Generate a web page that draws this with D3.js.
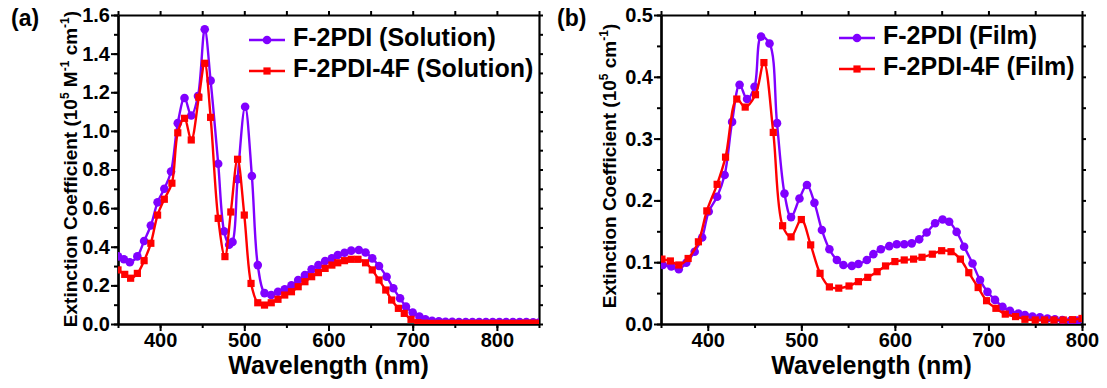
<!DOCTYPE html>
<html>
<head>
<meta charset="utf-8">
<script src="https://cdn.jsdelivr.net/npm/d3@7"></script>
<style>
    body { margin: 0; background: #fff; }
    text { font-family: "Liberation Sans", Arial, sans-serif; font-weight: bold; fill: #000; }
</style>
</head>
<body>
<svg id="chart" width="1107" height="388"></svg>
<script>
'use strict';

// ---- panel (a): solution, 10^5 M^-1 cm^-1 ----
var solWaveF2 = [350, 357, 364, 373, 381, 389, 397, 405, 413, 421, 429, 437, 445, 453, 460, 469, 476, 482, 486, 492,
    501, 509, 516, 524, 532, 540, 548, 556, 564, 572, 580, 588, 596, 604, 611, 619, 627, 636, 644, 652,
    660, 669, 677, 685, 692, 700, 708, 715, 723, 731, 739, 747, 755, 763, 771, 779, 787, 795, 803, 811,
    819, 827, 835, 843, 850];
var solAbsF2 = [0.35, 0.335, 0.32, 0.35, 0.43, 0.51, 0.63, 0.70, 0.79, 1.04, 1.17, 1.08, 1.18, 1.526, 1.26, 0.83, 0.48, 0.41, 0.425, 0.75,
    1.125, 0.766, 0.305, 0.16, 0.15, 0.167, 0.18, 0.20, 0.228, 0.254, 0.283, 0.305, 0.326, 0.34, 0.357, 0.369, 0.38, 0.383, 0.37, 0.34,
    0.30, 0.245, 0.185, 0.133, 0.09, 0.059, 0.038, 0.024, 0.017, 0.014, 0.012, 0.011, 0.010, 0.010, 0.010, 0.010, 0.010, 0.010, 0.010, 0.010,
    0.010, 0.010, 0.010, 0.009, 0.008];

var solWaveF4 = [350, 358, 365, 373, 381, 389, 397, 405, 414, 421, 429, 437, 446, 453, 460, 469, 477, 484, 492, 500,
    508, 516, 524, 532, 540, 548, 556, 564, 572, 580, 588, 596, 604, 611, 619, 627, 635, 644, 652, 660,
    668, 675, 683, 690, 698, 706, 714, 722, 730, 738, 746, 754, 762, 770, 778, 786, 794, 802, 810, 818,
    826, 834, 842, 850];
var solAbsF4 = [0.28, 0.257, 0.237, 0.262, 0.328, 0.418, 0.564, 0.646, 0.729, 0.99, 1.065, 0.953, 1.174, 1.35, 1.07, 0.547, 0.349, 0.58, 0.853, 0.564,
    0.21, 0.11, 0.098, 0.11, 0.128, 0.15, 0.167, 0.193, 0.219, 0.245, 0.266, 0.288, 0.305, 0.317, 0.328, 0.335, 0.335, 0.317, 0.28, 0.228,
    0.176, 0.124, 0.081, 0.055, 0.024, 0.007, 0.004, 0.003, 0.003, 0.003, 0.003, 0.003, 0.003, 0.003, 0.003, 0.003, 0.003, 0.003, 0.003, 0.003,
    0.003, 0.004, 0.004, 0.004];

// ---- panel (b): film, 10^5 cm^-1 ----
var filmWaveF2 = [352, 361, 369, 377, 386, 394, 401, 410, 418, 426, 434, 442, 450, 457, 466, 474, 482, 489, 498, 506,
    514, 522, 530, 538, 545, 554, 561, 570, 577, 585, 594, 602, 610, 618, 626, 634, 643, 651, 658, 666,
    674, 683, 691, 699, 707, 715, 723, 732, 739, 747, 755, 763, 771, 779, 788, 795];
var filmAbsF2 = [0.0955, 0.093, 0.0885, 0.099, 0.117, 0.14, 0.182, 0.206, 0.241, 0.327, 0.387, 0.364, 0.384, 0.465, 0.454, 0.325, 0.211, 0.173, 0.203, 0.225,
    0.196, 0.152, 0.121, 0.1035, 0.0955, 0.094, 0.097, 0.1035, 0.113, 0.121, 0.126, 0.129, 0.129, 0.1305, 0.137, 0.148, 0.163, 0.169, 0.1655, 0.149,
    0.125, 0.098, 0.071, 0.052, 0.039, 0.028, 0.0215, 0.017, 0.0146, 0.012, 0.011, 0.009, 0.0076, 0.0065, 0.0054, 0.0054];

var filmWaveF4 = [351, 360, 369, 379, 390, 399, 410, 419, 431, 440, 451, 460, 470, 480, 489, 500, 510, 520, 530, 540,
    551, 561, 571, 581, 590, 600, 610, 620, 629, 640, 650, 660, 670, 679, 689, 698, 708, 718, 729, 739,
    750, 760, 770, 780, 790, 800];
var filmAbsF4 = [0.105, 0.102, 0.0955, 0.106, 0.133, 0.183, 0.226, 0.27, 0.364, 0.351, 0.371, 0.423, 0.31, 0.159, 0.141, 0.169, 0.128, 0.082, 0.060, 0.058,
    0.0615, 0.0685, 0.0755, 0.0846, 0.0939, 0.101, 0.1036, 0.105, 0.108, 0.113, 0.1186, 0.117, 0.105, 0.083, 0.059, 0.0377, 0.0254, 0.016, 0.012, 0.0076,
    0.0065, 0.0065, 0.0065, 0.0065, 0.007, 0.009];

var xTicksA = [400, 500, 600, 700, 800];
var yTicksA = [0.0, 0.2, 0.4, 0.6, 0.8, 1.0, 1.2, 1.4, 1.6];
var xTicksB = [400, 500, 600, 700, 800];
var yTicksB = [0.0, 0.1, 0.2, 0.3, 0.4, 0.5];

var purple = '#8000ff';
var red = '#ff0000';

var svg = d3.select('#chart');

function zip(xs, ys) {
    return xs.map(function(v, i) { return {x: v, y: ys[i]}; });
}

function drawPanel(cfg) {
    var g = svg.append('g');
    var x = d3.scaleLinear().domain(cfg.xDomain).range([cfg.left, cfg.right]);
    var y = d3.scaleLinear().domain(cfg.yDomain).range([cfg.bottom, cfg.top]);

    var clipId = 'clip-' + cfg.id;
    svg.append('clipPath').attr('id', clipId)
        .append('rect')
        .attr('x', cfg.left).attr('y', cfg.top - 6)
        .attr('width', cfg.right - cfg.left).attr('height', cfg.bottom - cfg.top + 6);

    var xMinor = d3.range(cfg.xDomain[0], cfg.xDomain[1] + 1, 50);
    var yMinor = d3.range(0, cfg.yDomain[1] + 1e-9, cfg.yMinorStep);

    // minor ticks (all four sides)
    g.append('g').attr('transform', 'translate(0,' + cfg.bottom + ')')
        .call(d3.axisBottom(x).tickValues(xMinor).tickSize(4).tickFormat('').tickSizeOuter(0));
    g.append('g').attr('transform', 'translate(0,' + cfg.top + ')')
        .call(d3.axisTop(x).tickValues(xMinor).tickSize(4).tickFormat('').tickSizeOuter(0));
    g.append('g').attr('transform', 'translate(' + cfg.left + ',0)')
        .call(d3.axisLeft(y).tickValues(yMinor).tickSize(4).tickFormat('').tickSizeOuter(0));
    g.append('g').attr('transform', 'translate(' + cfg.right + ',0)')
        .call(d3.axisRight(y).tickValues(yMinor).tickSize(4).tickFormat('').tickSizeOuter(0));

    // major ticks with labels
    g.append('g').attr('transform', 'translate(0,' + cfg.bottom + ')')
        .call(d3.axisBottom(x).tickValues(cfg.xTicks).tickSize(7).tickPadding(2)
            .tickFormat(d3.format('d')).tickSizeOuter(0));
    g.append('g').attr('transform', 'translate(' + cfg.left + ',0)')
        .call(d3.axisLeft(y).tickValues(cfg.yTicks).tickSize(7).tickPadding(1)
            .tickFormat(d3.format('.1f')).tickSizeOuter(0));

    g.selectAll('.domain').attr('stroke', '#000').attr('stroke-width', 2.2);
    g.selectAll('.tick line').attr('stroke', '#000').attr('stroke-width', 2);
    g.selectAll('.tick text').style('font-size', '20px').attr('fill', '#000');

    // series
    var plot = g.append('g').attr('clip-path', 'url(#' + clipId + ')');
    var line = d3.line()
        .x(function(d) { return x(d.x); })
        .y(function(d) { return y(d.y); })
        .curve(d3.curveCatmullRom.alpha(0.5));

    cfg.series.forEach(function(s) {
        var pts = zip(s.xs, s.ys);
        plot.append('path').datum(pts)
            .attr('fill', 'none').attr('stroke', s.color).attr('stroke-width', 2.4)
            .attr('d', line);
        if (s.shape === 'circle') {
            plot.selectAll(null).data(pts).enter().append('circle')
                .attr('cx', function(d) { return x(d.x); })
                .attr('cy', function(d) { return y(d.y); })
                .attr('r', 4.3).attr('fill', s.color);
        } else {
            plot.selectAll(null).data(pts).enter().append('rect')
                .attr('x', function(d) { return x(d.x) - 3.6; })
                .attr('y', function(d) { return y(d.y) - 3.6; })
                .attr('width', 7.2).attr('height', 7.2).attr('fill', s.color);
        }
    });

    // axis titles
    svg.append('text')
        .attr('x', (cfg.left + cfg.right) / 2).attr('y', 374)
        .attr('text-anchor', 'middle').style('font-size', '25px')
        .text('Wavelength (nm)');

    var yt = svg.append('text')
        .attr('transform', 'translate(' + cfg.yTitleX + ',' + cfg.yTitleY + ') rotate(-90)')
        .attr('text-anchor', 'middle').style('font-size', '19px');
    cfg.yTitle.forEach(function(part) {
        var t = yt.append('tspan').text(part.t);
        if (part.sup) {
            t.style('font-size', '12px').attr('dy', -8);
        } else if (part.after) {
            t.attr('dy', 8);
        }
    });

    // panel label
    svg.append('text')
        .attr('x', cfg.labelX).attr('y', 26)
        .style('font-size', '23px')
        .text(cfg.label);

    // legend
    cfg.series.forEach(function(s, i) {
        var ly = cfg.legendY[i];
        var lg = svg.append('g');
        lg.append('line')
            .attr('x1', cfg.legendX1).attr('x2', cfg.legendX2)
            .attr('y1', ly).attr('y2', ly)
            .attr('stroke', s.color).attr('stroke-width', 2.4);
        var mx = (cfg.legendX1 + cfg.legendX2) / 2;
        if (s.shape === 'circle') {
            lg.append('circle').attr('cx', mx).attr('cy', ly).attr('r', 4.3).attr('fill', s.color);
        } else {
            lg.append('rect').attr('x', mx - 3.6).attr('y', ly - 3.6)
                .attr('width', 7.2).attr('height', 7.2).attr('fill', s.color);
        }
        lg.append('text')
            .attr('x', cfg.legendX2 + 8).attr('y', ly + 6)
            .style('font-size', '25px')
            .text(s.name);
    });
}

drawPanel({
    id: 'a', label: '(a)', labelX: 11,
    left: 118, right: 539, top: 15, bottom: 324,
    xDomain: [350, 850], yDomain: [0, 1.6], yMinorStep: 0.1,
    xTicks: xTicksA, yTicks: yTicksA,
    yTitleX: 77, yTitleY: 169,
    yTitle: [{t: 'Extinction Coefficient (10'}, {t: '5', sup: true}, {t: ' M', after: true},
        {t: '-1', sup: true}, {t: ' cm', after: true}, {t: '-1', sup: true}, {t: ')', after: true}],
    legendX1: 249, legendX2: 285, legendY: [40, 71],
    series: [
        {name: 'F-2PDI (Solution)', xs: solWaveF2, ys: solAbsF2, color: purple, shape: 'circle'},
        {name: 'F-2PDI-4F (Solution)', xs: solWaveF4, ys: solAbsF4, color: red, shape: 'square'}
    ]
});

drawPanel({
    id: 'b', label: '(b)', labelX: 557,
    left: 661, right: 1082, top: 15, bottom: 324,
    xDomain: [350, 800], yDomain: [0, 0.5], yMinorStep: 0.05,
    xTicks: xTicksB, yTicks: yTicksB,
    yTitleX: 616, yTitleY: 166,
    yTitle: [{t: 'Extinction Coefficient (10'}, {t: '5', sup: true}, {t: ' cm', after: true},
        {t: '-1', sup: true}, {t: ')', after: true}],
    legendX1: 839, legendX2: 875, legendY: [38, 69],
    series: [
        {name: 'F-2PDI (Film)', xs: filmWaveF2, ys: filmAbsF2, color: purple, shape: 'circle'},
        {name: 'F-2PDI-4F (Film)', xs: filmWaveF4, ys: filmAbsF4, color: red, shape: 'square'}
    ]
});
</script>
</body>
</html>
